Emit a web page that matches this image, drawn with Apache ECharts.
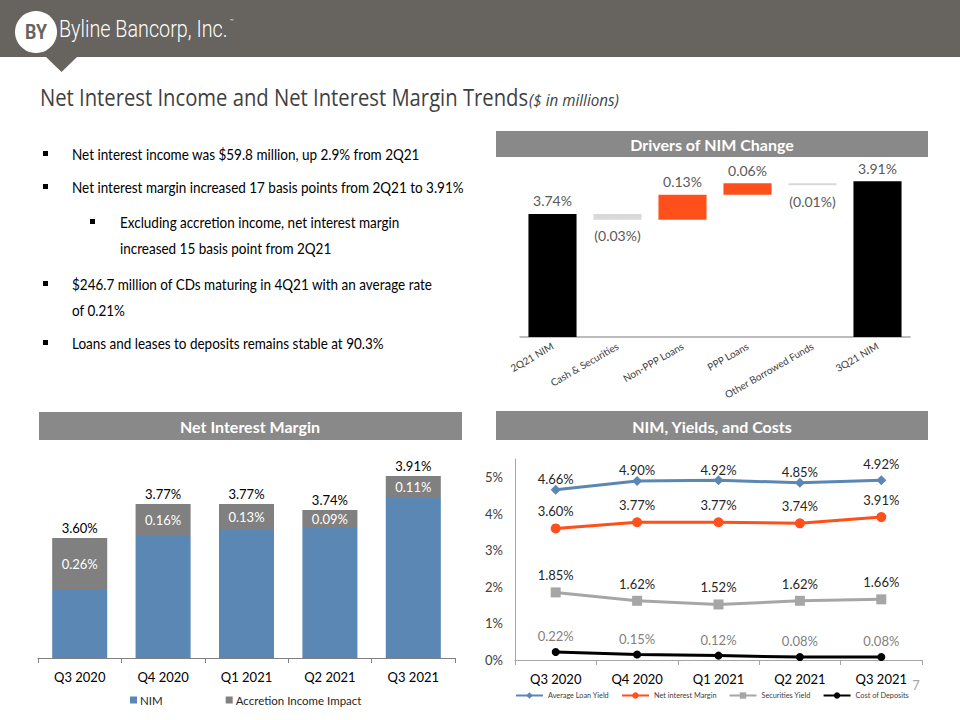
<!DOCTYPE html>
<html>
<head>
<meta charset="utf-8">
<script src="https://cdn.jsdelivr.net/npm/echarts@6/dist/echarts.min.js"></script>
<style>
html,body{margin:0;padding:0;background:#fff;}
#main{width:960px;height:720px;}
</style>
</head>
<body>
<div id="main"></div>
<script>
// ---------- Data ----------
var driverCategories = ['2Q21 NIM', 'Cash & Securities', 'Non-PPP Loans', 'PPP Loans', 'Other Borrowed Funds', '3Q21 NIM'];
var driverValues = [3.74, -0.03, 0.13, 0.06, -0.01, 3.91];
var driverIsTotal = [true, false, false, false, false, true];

var quarters = ['Q3 2020', 'Q4 2020', 'Q1 2021', 'Q2 2021', 'Q3 2021'];
var nimTotals = [3.60, 3.77, 3.77, 3.74, 3.91];
var accretionImpact = [0.26, 0.16, 0.13, 0.09, 0.11];

var avgLoanYield = [4.66, 4.90, 4.92, 4.85, 4.92];
var netInterestMargin = [3.60, 3.77, 3.77, 3.74, 3.91];
var securitiesYield = [1.85, 1.62, 1.52, 1.62, 1.66];
var costOfDeposits = [0.22, 0.15, 0.12, 0.08, 0.08];

var yieldTicks = [0, 1, 2, 3, 4, 5];

var bullets = [
  {level: 0, lines: ['Net interest income was $59.8 million, up 2.9% from 2Q21']},
  {level: 0, lines: ['Net interest margin increased 17 basis points from 2Q21 to 3.91%']},
  {level: 1, lines: ['Excluding accretion income, net interest margin', 'increased 15 basis point from 2Q21']},
  {level: 0, lines: ['$246.7 million of CDs maturing in 4Q21 with an average rate', 'of 0.21%']},
  {level: 0, lines: ['Loans and leases to deposits remains stable at 90.3%']}
];

// ---------- Derived ----------
var wfBase = [], wfDelta = [], running = 0;
driverValues.forEach(function (v, i) {
  if (driverIsTotal[i]) { wfBase.push(0); wfDelta.push(v); running = v; }
  else if (v < 0) { wfBase.push(+(running + v).toFixed(4)); wfDelta.push(-v); running += v; }
  else { wfBase.push(+running.toFixed(4)); wfDelta.push(v); running += v; }
});
var nimEx = nimTotals.map(function (t, i) { return +(t - accretionImpact[i]).toFixed(2); });
var zeros = nimTotals.map(function () { return 0; });

var ORANGE = '#FF4F1A', BLUE = '#5B87B5', FONT = 'Lato';

var wfDeltaData = wfDelta.map(function (d, i) {
  var v = driverValues[i];
  var col = driverIsTotal[i] ? '#000000' : (v < 0 ? '#D9D9D9' : ORANGE);
  return {
    value: d,
    itemStyle: {color: col},
    label: {position: v < 0 ? 'bottom' : 'top', distance: v < 0 ? 9 : 6}
  };
});

// ---------- Graphics (header, title, bullets, panel headers) ----------
var graphics = [
  {type: 'rect', shape: {x: 0, y: 0, width: 960, height: 57}, style: {fill: '#67635E'}},
  {type: 'polygon', shape: {points: [[45, 56], [78, 56], [61.5, 72]]}, style: {fill: '#67635E'}},
  {type: 'circle', shape: {cx: 36, cy: 32, r: 21}, style: {fill: '#ffffff'}},
  {type: 'text', x: 36, y: 32, scaleX: 0.85, style: {text: 'BY', fill: '#67635E', font: 'bold 21px Roboto', align: 'center', verticalAlign: 'middle'}},
  {type: 'text', x: 59, y: 29, scaleX: 0.86, style: {text: 'Byline Bancorp, Inc.', fill: '#ffffff', font: '300 23px Roboto', verticalAlign: 'middle'}},
  {type: 'text', x: 230, y: 20, style: {text: '™', fill: '#ffffff', font: '6px Roboto', verticalAlign: 'middle'}},
  {type: 'text', x: 40, y: 97, scaleX: 0.88, style: {text: 'Net Interest Income and Net Interest Margin Trends', fill: '#3F3F3F', font: '23px "Open Sans"', verticalAlign: 'middle'}},
  {type: 'text', x: 529, y: 100, scaleX: 0.95, style: {text: '($ in millions)', fill: '#3F3F3F', font: 'italic 16px "Open Sans"', verticalAlign: 'middle'}},
  {type: 'rect', shape: {x: 496, y: 131, width: 432, height: 26}, style: {fill: '#898989'}},
  {type: 'text', x: 712, y: 144, style: {text: 'Drivers of NIM Change', fill: '#ffffff', font: 'bold 16px Lato', align: 'center', verticalAlign: 'middle'}},
  {type: 'rect', shape: {x: 39, y: 412, width: 423, height: 28}, style: {fill: '#898989'}},
  {type: 'text', x: 250, y: 426, style: {text: 'Net Interest Margin', fill: '#ffffff', font: 'bold 16px Lato', align: 'center', verticalAlign: 'middle'}},
  {type: 'rect', shape: {x: 496, y: 411, width: 432, height: 29}, style: {fill: '#898989'}},
  {type: 'text', x: 712, y: 426, style: {text: 'NIM, Yields, and Costs', fill: '#ffffff', font: 'bold 16px Lato', align: 'center', verticalAlign: 'middle'}},
  {type: 'text', x: 916, y: 685, style: {text: '7', fill: '#A6A6A6', font: '13px Lato', align: 'center', verticalAlign: 'middle'}}
];
var bulletY = [154, 187, 222, 284, 343];
bullets.forEach(function (b, i) {
  var bx = b.level === 0 ? 45.5 : 92.5;
  var tx = b.level === 0 ? 72 : 120;
  graphics.push({type: 'rect', shape: {x: bx - 2.5, y: bulletY[i] - 3, width: 5, height: 5}, style: {fill: '#000000'}});
  b.lines.forEach(function (ln, k) {
    graphics.push({type: 'text', x: tx, y: bulletY[i] + k * 26, scaleX: 0.9,
      style: {text: ln, fill: '#000000', font: '15px Lato', verticalAlign: 'middle'}});
  });
});

// ---------- Chart ----------
var chart = echarts.init(document.getElementById('main'), null, {renderer: 'svg'});
var pct = function (v) { return v.toFixed(2) + '%'; };
var lineLabel = function (color) {
  return {show: true, position: 'top', distance: 5.5, color: color, fontSize: 13, fontFamily: FONT,
    formatter: function (p) { return pct(p.value); }};
};

chart.setOption({
  animation: false,
  textStyle: {fontFamily: FONT},
  graphic: graphics,
  grid: [
    {left: 520, right: 50, top: 164, bottom: 383},
    {left: 38, right: 505, top: 458, bottom: 62},
    {left: 515, right: 38, top: 459, bottom: 60}
  ],
  legend: [
    {data: ['NIM', 'Accretion Income Impact'], left: 130, top: 694, padding: 0, icon: 'rect', itemWidth: 7, itemHeight: 7, itemGap: 63, itemStyle: {borderWidth: 0},
      textStyle: {fontSize: 11.5, color: '#262626', fontFamily: FONT, padding: [0, 0, 0, -2]}},
    {data: ['Average Loan Yield', 'Net interest Margin', 'Securities Yield', 'Cost of Deposits'], left: 515, top: 692, padding: 0, itemWidth: 27, itemHeight: 8, itemGap: 12,
      textStyle: {fontSize: 7.3, color: '#404040', fontFamily: FONT}}
  ],
  xAxis: [
    {gridIndex: 0, type: 'category', data: driverCategories,
      axisLine: {lineStyle: {color: '#A6A6A6', width: 1.5}}, axisTick: {show: false},
      axisLabel: {rotate: 30, fontSize: 10, color: '#404040', margin: 8, interval: 0, fontFamily: FONT}},
    {gridIndex: 1, type: 'category', data: quarters,
      axisLine: {lineStyle: {color: '#7F7F7F', width: 1}}, axisTick: {show: true, length: 5, lineStyle: {color: '#7F7F7F'}},
      axisLabel: {fontSize: 13, color: '#000000', margin: 12, fontFamily: FONT}},
    {gridIndex: 2, type: 'category', data: quarters, boundaryGap: true,
      axisLine: {lineStyle: {color: '#A6A6A6', width: 1}}, axisTick: {show: true, length: 5, lineStyle: {color: '#A6A6A6'}},
      axisLabel: {fontSize: 13, color: '#000000', margin: 12, fontFamily: FONT}}
  ],
  yAxis: [
    {gridIndex: 0, type: 'value', min: 3.1, max: 4.0, show: false},
    {gridIndex: 1, type: 'value', min: 3.0, max: 4.0, show: false},
    {gridIndex: 2, type: 'value', min: yieldTicks[0], max: 5.5, interval: 1,
      splitLine: {show: false}, axisTick: {show: false},
      axisLine: {show: true, lineStyle: {color: '#A6A6A6'}},
      axisLabel: {fontSize: 13, color: '#404040', margin: 12, fontFamily: FONT,
        formatter: function (v) { return yieldTicks.indexOf(v) >= 0 ? v + '%' : ''; }}}
  ],
  series: [
    // Waterfall
    {name: 'wfBase', type: 'bar', xAxisIndex: 0, yAxisIndex: 0, stack: 'wf', data: wfBase, clip: true,
      barWidth: '74%', itemStyle: {color: 'rgba(0,0,0,0)'}, silent: true},
    {name: 'wfDelta', type: 'bar', xAxisIndex: 0, yAxisIndex: 0, stack: 'wf', data: wfDeltaData, clip: true,
      barWidth: '74%',
      label: {show: true, fontSize: 14, color: '#595959', fontFamily: FONT,
        formatter: function (p) {
          var v = driverValues[p.dataIndex];
          return v < 0 ? '(' + pct(-v) + ')' : pct(v);
        }}},
    // NIM stacked bars
    {name: 'NIM', type: 'bar', xAxisIndex: 1, yAxisIndex: 1, stack: 'nim', data: nimEx, clip: true,
      barWidth: '66%', itemStyle: {color: BLUE}},
    {name: 'Accretion Income Impact', type: 'bar', xAxisIndex: 1, yAxisIndex: 1, stack: 'nim', data: accretionImpact, clip: true,
      barWidth: '66%', itemStyle: {color: '#808080'},
      label: {show: true, position: 'inside', color: '#ffffff', fontSize: 13, fontFamily: FONT, formatter: function (p) { return pct(p.value); }}},
    {name: 'Total', type: 'bar', xAxisIndex: 1, yAxisIndex: 1, stack: 'nim', data: zeros, clip: false,
      barWidth: '66%', itemStyle: {color: 'rgba(0,0,0,0)'}, silent: true,
      label: {show: true, position: 'top', distance: 4, color: '#000000', fontSize: 13, fontFamily: FONT,
        formatter: function (p) { return pct(nimTotals[p.dataIndex]); }}},
    // Lines
    {name: 'Average Loan Yield', type: 'line', xAxisIndex: 2, yAxisIndex: 2,
      data: avgLoanYield.map(function (v, i) { return i === avgLoanYield.length - 1 ? {value: v, label: {distance: 5}} : v; }),
      symbol: 'diamond', symbolSize: 10, lineStyle: {color: BLUE, width: 3}, itemStyle: {color: BLUE},
      label: {show: true, position: 'top', distance: -1, color: '#262626', fontSize: 13, fontFamily: FONT, formatter: function (p) { return pct(p.value); }}},
    {name: 'Net interest Margin', type: 'line', xAxisIndex: 2, yAxisIndex: 2, data: netInterestMargin,
      symbol: 'circle', symbolSize: 10, lineStyle: {color: ORANGE, width: 3}, itemStyle: {color: ORANGE},
      label: lineLabel('#262626')},
    {name: 'Securities Yield', type: 'line', xAxisIndex: 2, yAxisIndex: 2, data: securitiesYield,
      symbol: 'rect', symbolSize: 10, lineStyle: {color: '#A6A6A6', width: 3}, itemStyle: {color: '#A6A6A6'},
      label: lineLabel('#262626')},
    {name: 'Cost of Deposits', type: 'line', xAxisIndex: 2, yAxisIndex: 2, data: costOfDeposits,
      symbol: 'circle', symbolSize: 8, lineStyle: {color: '#000000', width: 3}, itemStyle: {color: '#000000'},
      label: lineLabel('#7F7F7F')}
  ]
});
</script>
</body>
</html>
